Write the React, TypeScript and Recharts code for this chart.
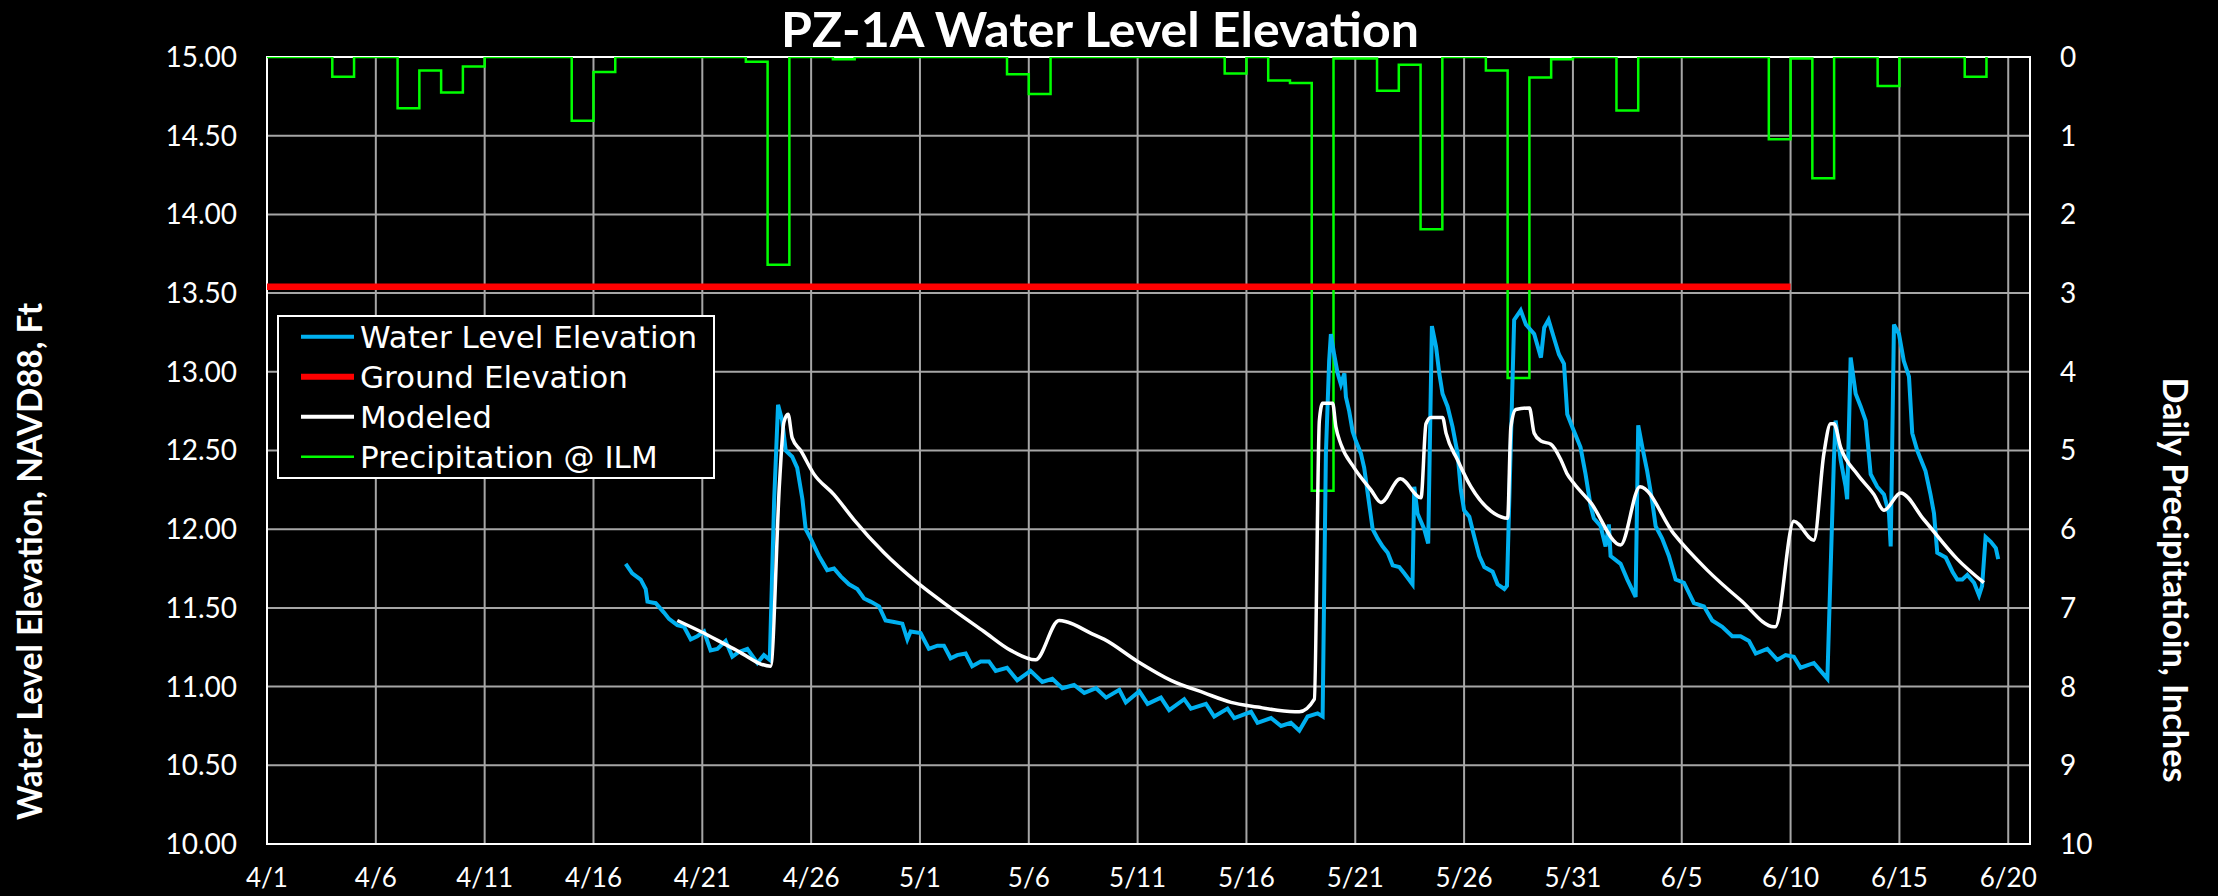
import React from 'react';
import { ComposedChart, Line, XAxis, YAxis, CartesianGrid, ReferenceArea } from 'recharts';

// x axis: days since 4/1
const xTickDays = [0, 5, 10, 15, 20, 25, 30, 35, 40, 45, 50, 55, 60, 65, 70, 75, 80];
const xTickLabels = ['4/1', '4/6', '4/11', '4/16', '4/21', '4/26', '5/1', '5/6', '5/11', '5/16', '5/21', '5/26', '5/31', '6/5', '6/10', '6/15', '6/20'];
const elevTicks = [10, 10.5, 11, 11.5, 12, 12.5, 13, 13.5, 14, 14.5, 15];
const precipTicks = [0, 1, 2, 3, 4, 5, 6, 7, 8, 9, 10];

// Water Level Elevation [day, ft]
const waterLevel: [number, number][] = [
  [16.48, 11.78], [16.78, 11.72], [17.17, 11.68], [17.4, 11.62], [17.48, 11.54], [17.86, 11.53], [18.24, 11.47],
  [18.47, 11.43], [18.85, 11.39], [19.16, 11.38], [19.47, 11.3], [19.77, 11.32], [20.08, 11.35], [20.38, 11.23],
  [20.69, 11.24], [21.07, 11.29], [21.38, 11.19], [21.68, 11.22], [22.07, 11.24], [22.53, 11.15], [22.83, 11.2],
  [23.1, 11.17], [23.3, 12.18], [23.48, 12.79], [23.67, 12.69], [23.83, 12.5], [24.13, 12.46], [24.36, 12.39],
  [24.6, 12.19], [24.75, 12.0], [24.98, 11.94], [25.36, 11.83], [25.74, 11.74], [26.05, 11.75], [26.36, 11.7],
  [26.74, 11.65], [27.12, 11.62], [27.43, 11.56], [27.73, 11.54], [28.12, 11.51], [28.42, 11.42], [28.81, 11.41],
  [29.19, 11.4], [29.42, 11.3], [29.57, 11.35], [30.03, 11.34], [30.41, 11.24], [30.8, 11.26], [31.1, 11.26],
  [31.41, 11.18], [31.71, 11.2], [32.1, 11.21], [32.4, 11.13], [32.79, 11.16], [33.17, 11.16], [33.48, 11.1],
  [34.0, 11.12], [34.47, 11.04], [35.08, 11.1], [35.62, 11.03], [36.08, 11.05], [36.54, 10.99], [37.08, 11.01],
  [37.55, 10.96], [38.09, 10.99], [38.55, 10.93], [39.16, 10.98], [39.46, 10.9], [40.08, 10.97], [40.46, 10.89],
  [41.07, 10.93], [41.45, 10.85], [42.14, 10.92], [42.45, 10.86], [43.14, 10.89], [43.52, 10.81], [44.13, 10.86],
  [44.44, 10.8], [45.21, 10.84], [45.51, 10.77], [46.13, 10.8], [46.59, 10.75], [47.04, 10.77], [47.43, 10.72],
  [47.81, 10.81], [48.27, 10.83], [48.5, 10.81], [48.65, 12.48], [48.8, 13.07], [48.88, 13.24], [49.03, 13.11],
  [49.19, 12.99], [49.34, 12.92], [49.5, 12.99], [49.57, 12.84], [49.72, 12.75], [49.88, 12.62], [50.03, 12.56],
  [50.26, 12.48], [50.41, 12.39], [50.6, 12.2], [50.8, 12.0], [51.03, 11.94], [51.26, 11.89], [51.49, 11.85],
  [51.72, 11.77], [52.02, 11.76], [52.25, 11.72], [52.63, 11.65], [52.71, 12.27], [52.86, 12.1], [53.17, 12.0],
  [53.35, 11.91], [53.52, 13.29], [53.71, 13.16], [53.86, 12.99], [54.01, 12.86], [54.24, 12.78], [54.47, 12.65],
  [54.7, 12.48], [54.85, 12.25], [55.0, 12.12], [55.24, 12.08], [55.47, 11.95], [55.7, 11.83], [55.93, 11.76],
  [56.31, 11.73], [56.54, 11.65], [56.85, 11.62], [56.97, 11.64], [57.3, 13.33], [57.6, 13.39], [57.84, 13.3],
  [58.22, 13.24], [58.53, 13.09], [58.68, 13.28], [58.88, 13.33], [59.14, 13.21], [59.36, 13.11], [59.59, 13.05],
  [59.74, 12.73], [59.97, 12.65], [60.35, 12.52], [60.58, 12.35], [60.81, 12.15], [60.96, 12.07], [61.27, 12.02],
  [61.5, 11.89], [61.65, 12.03], [61.73, 11.83], [62.19, 11.78], [62.5, 11.68], [62.88, 11.57], [63.0, 12.66],
  [63.19, 12.52], [63.41, 12.37], [63.64, 12.18], [63.8, 12.02], [64.1, 11.94], [64.41, 11.83], [64.72, 11.68],
  [65.1, 11.66], [65.56, 11.53], [66.02, 11.51], [66.4, 11.42], [66.86, 11.38], [67.32, 11.32], [67.7, 11.32],
  [68.09, 11.29], [68.4, 11.21], [68.93, 11.24], [69.39, 11.17], [69.77, 11.2], [70.15, 11.19], [70.46, 11.12],
  [71.07, 11.15], [71.38, 11.1], [71.69, 11.05], [71.99, 12.44], [72.07, 12.69], [72.3, 12.44], [72.53, 12.27],
  [72.6, 12.19], [72.76, 13.09], [72.99, 12.86], [73.22, 12.78], [73.45, 12.69], [73.68, 12.35], [73.98, 12.27],
  [74.29, 12.22], [74.52, 12.1], [74.6, 11.89], [74.75, 13.3], [74.98, 13.24], [75.2, 13.07], [75.44, 12.97],
  [75.59, 12.61], [75.82, 12.5], [76.2, 12.37], [76.43, 12.22], [76.59, 12.1], [76.74, 11.85], [77.13, 11.82],
  [77.44, 11.73], [77.66, 11.68], [77.89, 11.68], [78.12, 11.71], [78.43, 11.66], [78.66, 11.58], [78.8, 11.64],
  [78.96, 11.95], [79.2, 11.92], [79.43, 11.88], [79.54, 11.81],
];

// Modeled [day, ft]
const modeled: [number, number][] = [
  [18.85, 11.42], [19.92, 11.35], [21.45, 11.24], [23.14, 11.13], [23.55, 12.3], [23.75, 12.68], [23.94, 12.73],
  [24.13, 12.58], [24.52, 12.5], [25.13, 12.35], [26.05, 12.22], [26.97, 12.06], [28.35, 11.85], [29.88, 11.66],
  [31.41, 11.5], [32.94, 11.35], [34.17, 11.23], [35.31, 11.17], [36.39, 11.42], [36.77, 11.41], [37.84, 11.34],
  [38.47, 11.3], [40.0, 11.16], [41.53, 11.04], [43.06, 10.96], [44.29, 10.9], [45.51, 10.87], [46.43, 10.85],
  [47.43, 10.84], [48.12, 10.92], [48.35, 12.69], [48.5, 12.8], [48.96, 12.8], [49.11, 12.65], [49.34, 12.54],
  [49.95, 12.39], [50.72, 12.25], [51.18, 12.17], [52.07, 12.32], [53.02, 12.2], [53.25, 12.67], [53.48, 12.71],
  [54.01, 12.71], [54.17, 12.61], [54.7, 12.44], [55.31, 12.27], [56.39, 12.1], [57.0, 12.07], [57.15, 12.65],
  [57.38, 12.76], [58.0, 12.77], [58.22, 12.61], [58.53, 12.56], [58.99, 12.54], [59.45, 12.44], [59.74, 12.35],
  [60.05, 12.29], [60.81, 12.17], [62.19, 11.9], [63.08, 12.27], [64.64, 11.97], [66.17, 11.74], [67.7, 11.55],
  [69.24, 11.38], [69.3, 11.38], [70.15, 12.05], [71.07, 11.93], [71.53, 12.48], [71.84, 12.67], [71.99, 12.67],
  [72.3, 12.52], [73.06, 12.35], [73.83, 12.22], [74.29, 12.12], [75.06, 12.23], [76.13, 12.06], [77.66, 11.81],
  [78.88, 11.66],
];

// Ground elevation
const groundElevation = 13.54;
const groundDays = [0, 70];

// Daily precipitation @ ILM (inches), non-zero days
const precipDays = [3, 6, 7, 8, 9, 14, 15, 22, 23, 26, 34, 35, 44, 46, 47, 48, 49, 50, 51, 52, 53, 56, 57, 58, 59, 62, 69, 70, 71, 74, 78];
const precipInches = [0.25, 0.65, 0.17, 0.45, 0.12, 0.81, 0.19, 0.06, 2.64, 0.03, 0.22, 0.47, 0.21, 0.3, 0.33, 5.51, 0.02, 0.02, 0.43, 0.1, 2.19, 0.17, 4.08, 0.26, 0.03, 0.68, 1.045, 0.02, 1.54, 0.37, 0.25];
const precipLastDay = 79;

const wlData = waterLevel.map(([day, v]) => ({ day, v }));
const modeledData = modeled.map(([day, v]) => ({ day, v }));
const groundData = groundDays.map((day) => ({ day, v: groundElevation }));
const precipData = Array.from({ length: precipLastDay + 1 }, (_, day) => {
  const i = precipDays.indexOf(day);
  return { day, p: i >= 0 ? precipInches[i] : 0 };
});

const legendItems = [
  { name: 'Water Level Elevation', color: '#00b0f0', width: 4 },
  { name: 'Ground Elevation', color: '#ff0000', width: 6 },
  { name: 'Modeled', color: '#ffffff', width: 4 },
  { name: 'Precipitation @ ILM', color: '#00ff00', width: 2.5 },
];

const tickFont = { fill: '#ffffff', fontSize: 28, fontFamily: 'Lato' };

export default function App() {
  return (
    <div style={{ position: 'absolute', left: 0, top: 0, width: 2218, height: 896, background: '#000', overflow: 'hidden' }}>
      <ComposedChart width={2218} height={896} margin={{ top: 57, right: 0, bottom: 0, left: 0 }}>
        <CartesianGrid yAxisId="left" stroke="#a6a6a6" strokeWidth={2} />
        <XAxis
          type="number"
          dataKey="day"
          domain={[0, 81]}
          allowDataOverflow
          ticks={xTickDays}
          interval={0}
          tickFormatter={(v: number) => xTickLabels[xTickDays.indexOf(v)] ?? ''}
          height={52}
          axisLine={false}
          tickLine={false}
          tickSize={0}
          tickMargin={25}
          tick={{ ...tickFont, fontSize: 26 }}
        />
        <YAxis
          yAxisId="left"
          type="number"
          domain={[10, 15]}
          allowDataOverflow
          ticks={elevTicks}
          interval={0}
          tickFormatter={(v: number) => v.toFixed(2)}
          width={267}
          axisLine={false}
          tickLine={false}
          tickSize={0}
          tickMargin={30}
          tick={tickFont}
        />
        <YAxis
          yAxisId="right"
          orientation="right"
          type="number"
          domain={[0, 10]}
          reversed
          allowDataOverflow
          ticks={precipTicks}
          interval={0}
          width={188}
          axisLine={false}
          tickLine={false}
          tickSize={0}
          tickMargin={30}
          tick={tickFont}
        />
        <ReferenceArea yAxisId="left" x1={0} x2={81} y1={10} y2={15} fill="none" stroke="#ffffff" strokeWidth={2} />
        <Line yAxisId="right" data={precipData} dataKey="p" type="stepAfter" stroke="#00ff00" strokeWidth={2.5} dot={false} isAnimationActive={false} />
        <Line yAxisId="left" data={wlData} dataKey="v" type="linear" stroke="#00b0f0" strokeWidth={4} dot={false} isAnimationActive={false} />
        <Line yAxisId="left" data={modeledData} dataKey="v" type="monotone" stroke="#ffffff" strokeWidth={3.5} dot={false} isAnimationActive={false} />
        <Line yAxisId="left" data={groundData} dataKey="v" type="linear" stroke="#ff0000" strokeWidth={6.5} dot={false} isAnimationActive={false} />
      </ComposedChart>
      <svg width={2218} height={896} style={{ position: 'absolute', left: 0, top: 0, pointerEvents: 'none' }}>
        <text x={1100} y={46.7} textAnchor="middle" fontFamily="Lato" fontWeight={700} fontSize={48} fill="#fff" textLength={638} lengthAdjust="spacingAndGlyphs">
          PZ-1A Water Level Elevation
        </text>
        <text x={42} y={561.5} transform="rotate(-90, 42, 561.5)" textAnchor="middle" fontFamily="Lato" fontWeight={700} fontSize={35} fill="#fff" textLength={517} lengthAdjust="spacingAndGlyphs">
          Water Level Elevation, NAVD88, Ft
        </text>
        <text x={2163} y={580} transform="rotate(90, 2163, 580)" textAnchor="middle" fontFamily="Lato" fontWeight={700} fontSize={35} fill="#fff" textLength={405} lengthAdjust="spacingAndGlyphs">
          Daily Precipitatioin, Inches
        </text>
        <rect x={278} y={316} width={436} height={162} fill="#000" stroke="#fff" strokeWidth={2} />
        {legendItems.map((it, i) => {
          const cy = 336.7 + i * 40;
          return (
            <g key={it.name}>
              <line x1={301} x2={354} y1={cy} y2={cy} stroke={it.color} strokeWidth={it.width} />
              <text x={360} y={cy + 11} fontFamily="DejaVu Sans" fontSize={31} fill="#fff">
                {it.name}
              </text>
            </g>
          );
        })}
      </svg>
    </div>
  );
}
